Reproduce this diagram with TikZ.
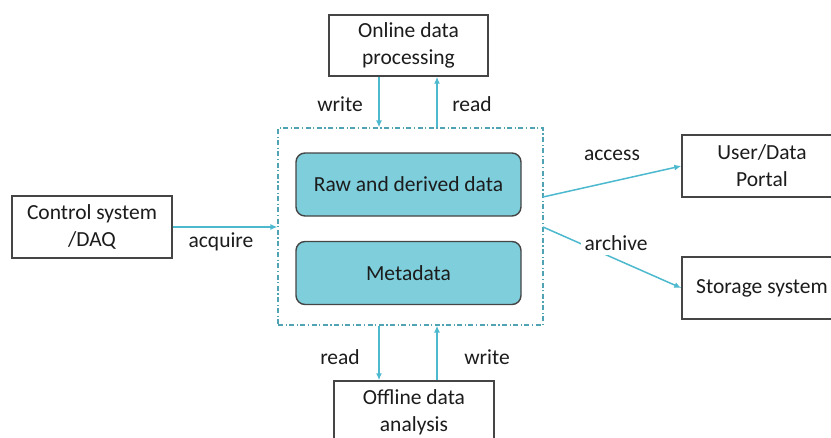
\documentclass[tikz,border=0pt]{standalone}
\usepackage{fontspec}
\setmainfont{Carlito}
\usetikzlibrary{arrows.meta,calc}
\definecolor{linkcyan}{HTML}{4DB9CE}
\definecolor{storefill}{HTML}{7ECEDB}
\definecolor{framecyan}{HTML}{4FA3B3}
\definecolor{edgegray}{HTML}{454545}
\definecolor{inkgray}{HTML}{1C1C1C}
\tikzset{
  plainbox/.style={draw=edgegray, line width=1.4pt, fill=white, align=center,
    text=inkgray, inner sep=0pt, font=\fontsize{21.5}{27}\selectfont},
  storebox/.style={draw=edgegray, line width=1.4pt, fill=storefill, rounded corners=9pt,
    text=inkgray, inner sep=0pt, minimum width=225pt, minimum height=63pt,
    font=\fontsize{21.5}{27}\selectfont},
  frame/.style={draw=framecyan, line width=1.2pt,
    dash pattern=on 5pt off 2.5pt on 1.2pt off 2.5pt, inner sep=0pt},
  arr/.style={draw=linkcyan, line width=1.5pt, -{Latex[length=7pt,width=6pt]}},
  lbl/.style={text=inkgray, inner sep=1pt, font=\fontsize{21.5}{27}\selectfont}
}
\begin{document}
\begin{tikzpicture}[x=1pt,y=-1pt]
\useasboundingbox (0,0) rectangle (831,437);
\clip (0,0) rectangle (831,437);

% central data store
\node[frame, minimum width=265pt, minimum height=197pt] (store) at (410.5,226.5) {};
\node[storebox] (raw) at (408.5,184.5) {Raw and derived data};
\node[storebox] (meta) at (408.5,273) {Metadata};

% surrounding systems
\node[plainbox, minimum width=159pt, minimum height=61pt] (online) at (408.5,45.5) {Online data\\processing};
\node[plainbox, minimum width=160pt, minimum height=62pt] (daq) at (92,227) {Control system\\/DAQ};
\node[plainbox, minimum width=160pt, minimum height=62pt] (portal) at (762,166) {User/Data\\Portal};
\node[plainbox, minimum width=160pt, minimum height=62pt] (storage) at (762,288) {Storage system};
\node[plainbox, minimum width=160pt, minimum height=62pt] (offline) at (414,412) {Offline data\\analysis};

% attachment points on the frame
\coordinate (wOn) at (379,0);
\coordinate (rOn) at (437,0);
\coordinate (pAcc) at (543,197);
\coordinate (pArc) at (543,227);

% online processing
\draw[arr] (online.south -| wOn) -- (store.north -| wOn);
\draw[arr] (store.north -| rOn) -- (online.south -| rOn);
\node[lbl] (lwOn) at (340,104) {write};
\node[lbl] (lrOn) at (472,104) {read};

% acquisition
\draw[arr] (daq.east) -- (daq.east -| store.west);
\node[lbl] (lacq) at (221,242) {acquire};

% access and archive
\draw[arr] (pAcc) -- (portal.west);
\node[lbl] (lacc) at (612,155) {access};
\draw[arr] (pArc) -- (storage.west);
\node[lbl, fill=white, inner sep=4pt] (larc) at (616,243) {archive};

% offline analysis
\draw[arr] (store.south -| wOn) -- (offline.north -| wOn);
\draw[arr] (offline.north -| rOn) -- (store.south -| rOn);
\node[lbl] (lrOff) at (340,357) {read};
\node[lbl] (lwOff) at (487,357) {write};
\end{tikzpicture}
\end{document}
